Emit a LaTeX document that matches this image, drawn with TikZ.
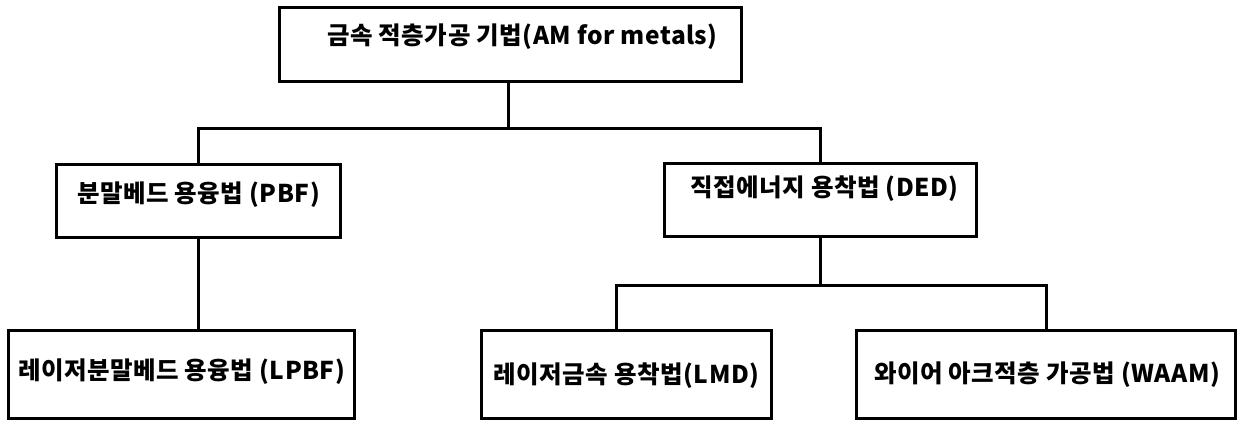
\documentclass[tikz,border=0pt]{standalone}
\usepackage{fontspec}
\newfontfamily\kr{Noto Sans CJK KR}[LetterSpace=2]
\begin{document}
\begin{tikzpicture}[x=1pt,y=-1pt,
  box/.style={draw, line width=3pt, inner sep=0pt},
  lbl/.style={font=\kr\bfseries\fontsize{24.5}{28}\selectfont, inner sep=0pt},
  conn/.style={line width=3pt}]
\useasboundingbox (0,0) rectangle (1240,421);
\node[box, minimum width=462pt, minimum height=74pt,
  label={[lbl, shift={(12,-7.5)}]center:금속 적층가공 기법(AM for metals)}] (top) at (510.5,44.5) {};
\node[box, minimum width=284pt, minimum height=73pt,
  label={[lbl, shift={(0,-6.5)}]center:분말베드 용융법 (PBF)}] (pbf) at (198.5,201) {};
\node[box, minimum width=312pt, minimum height=73pt,
  label={[lbl, shift={(4,-11)}]center:직접에너지 용착법 (DED)}] (ded) at (820.5,200) {};
\node[box, minimum width=346pt, minimum height=88pt,
  label={[lbl, shift={(0,-2)}]center:레이저분말베드 용융법 (LPBF)}] (lpbf) at (181.5,374) {};
\node[box, minimum width=290pt, minimum height=88pt,
  label={[lbl, shift={(0,2)}]center:레이저금속 용착법(LMD)}] (lmd) at (626.5,374) {};
\node[box, minimum width=379pt, minimum height=88pt,
  label={[lbl, shift={(1,1)}]center:와이어 아크적층 가공법 (WAAM)}] (waam) at (1046,374) {};
\coordinate (j1) at (508,128);
\coordinate (j2) at (820.5,285);
\draw[conn] (j1 |- top.south) -- (j1);
\draw[conn] (pbf.north) |- (j1) -| (ded.north);
\draw[conn] (pbf.south) -- (pbf.south |- lpbf.north);
\draw[conn] (ded.south) -- (j2);
\draw[conn] ([xshift=-10.5pt]lmd.north) |- (j2) -| (waam.north);
\end{tikzpicture}
\end{document}
